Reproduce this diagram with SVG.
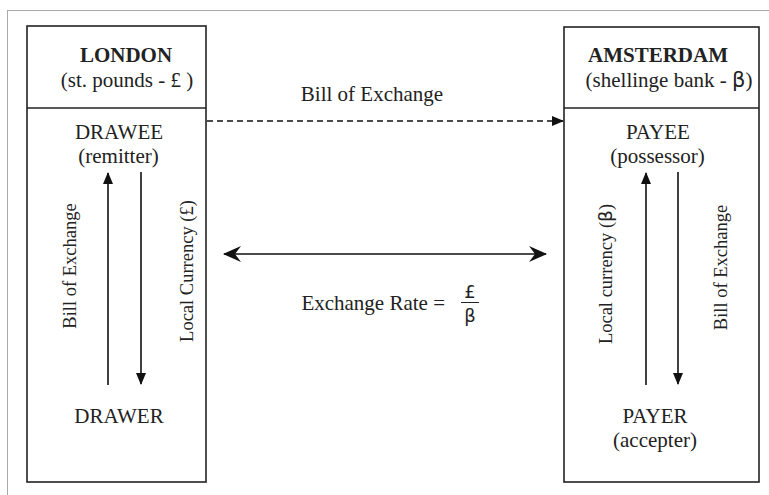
<svg xmlns="http://www.w3.org/2000/svg" width="769" height="495" viewBox="0 0 769 495">
  <style>
    .frame { fill: none; stroke: #555; stroke-width: 1; stroke-dasharray: 1 1; }
    .box { fill: #fff; stroke: #222; stroke-width: 1.6; }
    .div { stroke: #222; stroke-width: 1.6; }
    .t { font-family: "Liberation Serif", "Times New Roman", serif; font-size: 21px; fill: #222; text-anchor: middle; }
    .r { font-size: 18.5px; }
    .b { font-weight: bold; }
    .s { font-family: "DejaVu Sans", "Liberation Sans", sans-serif; }
    .line { stroke: #111; stroke-width: 1.6; fill: none; }
    .dash { stroke-dasharray: 6 4; }
  </style>
  <defs>
    <marker id="head" viewBox="0 0 12 10" refX="11" refY="5" markerWidth="12" markerHeight="10" markerUnits="userSpaceOnUse" orient="auto">
      <path d="M0,0 L12,5 L0,10 Z" fill="#111"/>
    </marker>
    <marker id="barb" viewBox="0 0 18 16" refX="17" refY="8" markerWidth="18" markerHeight="16" markerUnits="userSpaceOnUse" orient="auto-start-reverse">
      <path d="M0,0 L18,8 L0,16 L6,8 Z" fill="#111"/>
    </marker>
  </defs>

  <!-- dotted outer frame -->
  <rect class="frame" x="7.5" y="10.5" width="790" height="520"/>

  <!-- London side -->
  <g id="london">
    <rect class="box" x="27" y="26" width="179" height="456"/>
    <line class="div" x1="27" y1="108" x2="206" y2="108"/>
    <text class="t b" x="126" y="62">LONDON</text>
    <text class="t" x="127" y="87">(st. pounds -  £ )</text>
  </g>
  <g id="drawee">
    <text class="t" x="119" y="139">DRAWEE</text>
    <text class="t" x="118.5" y="163">(remitter)</text>
  </g>
  <g id="drawer">
    <text class="t" x="119" y="423">DRAWER</text>
  </g>

  <!-- Amsterdam side -->
  <g id="amsterdam">
    <rect class="box" x="564" y="27" width="195" height="455"/>
    <line class="div" x1="564" y1="108" x2="759" y2="108"/>
    <text class="t b" x="658" y="62">AMSTERDAM</text>
    <text class="t" x="669" y="87">(shellinge bank - <tspan class="s">β</tspan>)</text>
  </g>
  <g id="payee">
    <text class="t" x="658" y="139">PAYEE</text>
    <text class="t" x="657.5" y="163">(possessor)</text>
  </g>
  <g id="payer">
    <text class="t" x="655" y="423">PAYER</text>
    <text class="t" x="655" y="447">(accepter)</text>
  </g>

  <!-- connectors -->
  <g id="connectors">
    <line class="line dash" x1="207" y1="121" x2="563" y2="121" marker-end="url(#head)"/>
    <line class="line" x1="108" y1="385" x2="108" y2="173" marker-end="url(#head)"/>
    <line class="line" x1="141" y1="172" x2="141" y2="384" marker-end="url(#head)"/>
    <line class="line" x1="646" y1="385" x2="646" y2="173" marker-end="url(#head)"/>
    <line class="line" x1="678" y1="172" x2="678" y2="384" marker-end="url(#head)"/>
    <line class="line" x1="224" y1="254" x2="546" y2="254" marker-start="url(#barb)" marker-end="url(#barb)"/>
  </g>

  <!-- connector labels -->
  <g id="labels">
    <text class="t" x="372" y="101">Bill of Exchange</text>
    <text class="t r" transform="translate(76,266) rotate(-90)">Bill of Exchange</text>
    <text class="t r" transform="translate(193,271) rotate(-90)">Local Currency (£)</text>
    <text class="t r" transform="translate(612,274) rotate(-90)">Local currency (<tspan class="s">β</tspan>)</text>
    <text class="t r" transform="translate(727,267.5) rotate(-90)">Bill of Exchange</text>
    <text class="t" x="445" y="310" style="text-anchor:end">Exchange Rate =</text>
    <text class="t s" x="470" y="298" style="font-size:18px">£</text>
    <line x1="461" y1="302.5" x2="479" y2="302.5" stroke="#222" stroke-width="1"/>
    <text class="t s" x="470" y="322" style="font-size:18px">β</text>
  </g>
</svg>
